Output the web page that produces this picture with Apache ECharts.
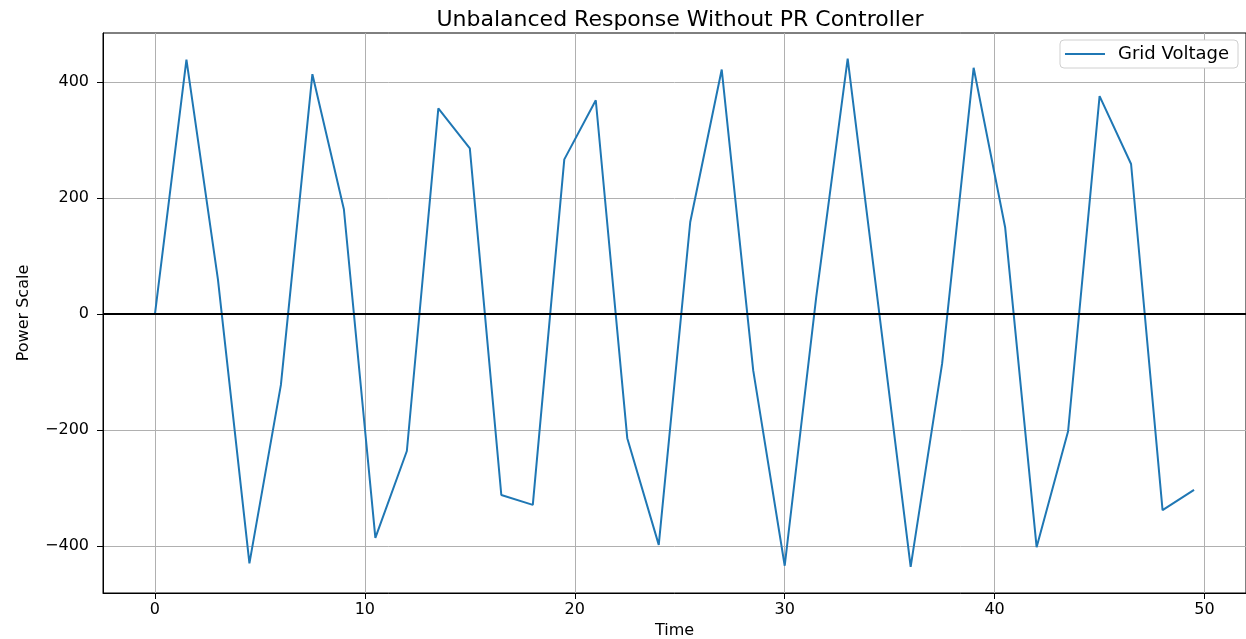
<!DOCTYPE html>
<html>
<head>
<meta charset="utf-8">
<script src="https://cdn.jsdelivr.net/npm/echarts@6/dist/echarts.min.js"></script>
<style>
html,body{margin:0;padding:0;background:#fff;}
#chart{width:1246px;height:639px;}
</style>
</head>
<body>
<div id="chart"></div>
<script>
const times = [0, 1.5, 3, 4.5, 6, 7.5, 9, 10.5, 12, 13.5, 15, 16.5, 18, 19.5, 21, 22.5, 24, 25.5, 27, 28.5, 30, 31.5, 33, 34.5, 36, 37.5, 39, 40.5, 42, 43.5, 45, 46.5, 48, 49.5];
const gridVoltage = [0, 439, 60, -430, -122, 414, 181, -386, -236, 355, 286, -312, -329, 267, 369, -214, -398, 159, 422, -97, -434, 29, 441, 3, -436, -85, 425, 150, -402, -202, 376, 259, -338, -303];
const xTicks = [0, 10, 20, 30, 40, 50];
const yTicks = [-400, -200, 0, 200, 400];

const font = 'DejaVu Sans';
const chart = echarts.init(document.getElementById('chart'));
chart.setOption({
  animation: false,
  backgroundColor: '#fff',
  title: {
    text: 'Unbalanced Response Without PR Controller',
    left: 675, top: 4, textAlign: 'center',
    textStyle: {fontFamily: font, fontSize: 22, fontWeight: 'normal', color: '#000'}
  },
  legend: {
    right: 8, top: 40,
    data: ['Grid Voltage'],
    icon: 'rect', itemWidth: 40, itemHeight: 2, itemGap: 10,
    padding: [5, 9, 5, 5],
    borderColor: '#d0d0d0', borderWidth: 1, borderRadius: 4,
    backgroundColor: '#fff',
    textStyle: {fontFamily: font, fontSize: 18, color: '#000', padding: [0, 0, 0, 8]}
  },
  grid: {
    left: 103, right: 0, top: 33, bottom: 46,
    outerBoundsMode: 'none', containLabel: false,
    show: true, borderColor: '#000', borderWidth: 1
  },
  xAxis: {
    type: 'value', min: -2.475, max: 51.975,
    name: 'Time', nameLocation: 'middle', nameGap: 28,
    nameTextStyle: {fontFamily: font, fontSize: 16, color: '#000'},
    axisLine: {show: true, onZero: false, lineStyle: {color: '#000'}},
    axisTick: {show: true, length: 6, customValues: xTicks, lineStyle: {color: '#000'}},
    axisLabel: {customValues: xTicks, fontFamily: font, fontSize: 16, color: '#000', margin: 9},
    splitLine: {show: true, lineStyle: {color: '#b0b0b0', width: 1}}
  },
  yAxis: {
    type: 'value', min: -481, max: 485,
    name: 'Power Scale', nameLocation: 'middle', nameGap: 71,
    nameTextStyle: {fontFamily: font, fontSize: 16, color: '#000'},
    axisLine: {show: true, onZero: false, lineStyle: {color: '#000'}},
    axisTick: {show: true, length: 6, customValues: yTicks, lineStyle: {color: '#000'}},
    axisLabel: {customValues: yTicks, fontFamily: font, fontSize: 16, color: '#000', margin: 14,
      formatter: v => String(v).replace('-', '\u2212')},
    splitLine: {show: true, lineStyle: {color: '#b0b0b0', width: 1}}
  },
  series: [{
    name: 'Grid Voltage',
    type: 'line',
    data: times.map((t, i) => [t, gridVoltage[i]]),
    showSymbol: false,
    lineStyle: {color: '#1f77b4', width: 2},
    itemStyle: {color: '#1f77b4'},
    markLine: {
      silent: true, symbol: 'none', label: {show: false},
      lineStyle: {color: '#000', width: 2, type: 'solid'},
      data: [{yAxis: 0}]
    }
  }]
});
</script>
</body>
</html>
